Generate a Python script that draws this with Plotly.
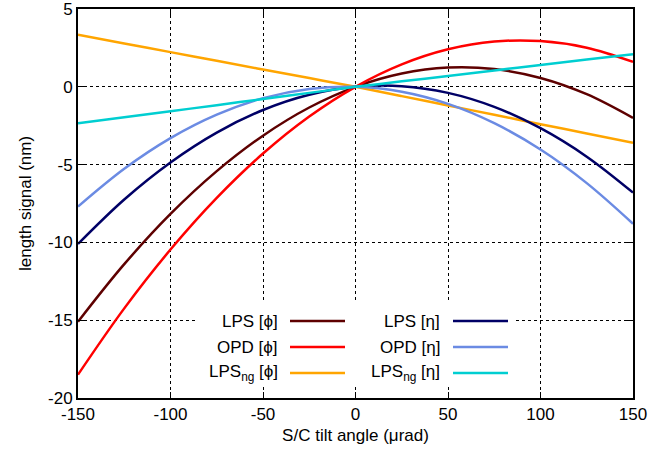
import plotly.graph_objects as go

x = [-150, -125, -100, -75, -50, -25, 0, 25, 50, 75, 100, 125, 150]

lps_phi = [-15.1, -11.4, -8.17, -5.42, -3.14, -1.33, 0, 0.855, 1.235, 1.14, 0.57, -0.475, -2.0]
opd_phi = [-18.5, -14.24, -10.46, -7.14, -4.29, -1.91, 0, 1.44, 2.41, 2.91, 2.94, 2.51, 1.6]
lpsng_phi = [3.35, 2.79, 2.23, 1.67, 1.11, 0.56, 0, -0.60, -1.20, -1.80, -2.40, -3.0, -3.6]
lps_eta = [-10.1, -7.24, -4.86, -2.94, -1.49, -0.51, 0, 0.04, -0.39, -1.29, -2.66, -4.49, -6.8]
opd_eta = [-7.7, -5.27, -3.30, -1.79, -0.73, -0.14, 0, -0.32, -1.10, -2.34, -4.03, -6.19, -8.8]
lpsng_eta = [-2.35, -1.96, -1.57, -1.18, -0.78, -0.39, 0, 0.35, 0.70, 1.05, 1.40, 1.75, 2.1]

x_ticks = [-150, -100, -50, 0, 50, 100, 150]
x_ticktext = ["-150", "-100", "-50", "0", "50", "100", "150"]
y_ticks = [-20, -15, -10, -5, 0, 5]
y_ticktext = ["-20", "-15", "-10", "-5", "0", "5"]

names = ["LPS [\u03d5]", "OPD [\u03d5]", "LPS<sub>ng</sub> [\u03d5]",
         "LPS [\u03b7]", "OPD [\u03b7]", "LPS<sub>ng</sub> [\u03b7]"]
series = [lps_phi, opd_phi, lpsng_phi, lps_eta, opd_eta, lpsng_eta]
colors = ["#5e0000", "#ff0000", "#ffa500", "#000066", "#6b8be3", "#00ced1"]

FONT = "Liberation Sans, Arial, sans-serif"
FS = 17

fig = go.Figure()
for nm, ys, c in zip(names, series, colors):
    fig.add_trace(go.Scatter(x=x, y=ys, mode="lines", name=nm,
                             line=dict(color=c, width=2.5, shape="spline"),
                             showlegend=False))

# plot area in pixels
L, R, T, B = 78, 633, 9, 398
W, H = R - L, B - T

def px(xp):
    return (xp - L) / W

def py(yp):
    return (B - yp) / H

# manual gnuplot-style legend
shapes = [dict(type="rect", xref="paper", yref="paper",
               x0=px(195), x1=px(515), y0=py(387), y1=py(303),
               fillcolor="white", line=dict(width=0), layer="above")]
annotations = []
rows_px = [321, 347, 373]
cols = [(280, 290, 345), (442, 453, 508)]
for i, (nm, c) in enumerate(zip(names, colors)):
    col = cols[i // 3]
    yp = py(rows_px[i % 3])
    annotations.append(dict(xref="paper", yref="paper",
                            x=px(col[0]), y=yp, text=nm, showarrow=False,
                            xanchor="right", yanchor="middle",
                            font=dict(family=FONT, size=FS, color="black")))
    shapes.append(dict(type="line", xref="paper", yref="paper",
                       x0=px(col[1]), x1=px(col[2]), y0=yp, y1=yp,
                       line=dict(color=c, width=2.5), layer="above"))

axis_common = dict(showline=True, linecolor="black", linewidth=2, mirror="allticks",
                   ticks="inside", ticklen=6, tickcolor="black", tickwidth=1,
                   showgrid=True, gridcolor="black", gridwidth=1, griddash="dot",
                   zeroline=False, ticklabeloverflow="allow", automargin=False,
                   tickfont=dict(family=FONT, size=FS, color="black"))

fig.update_layout(
    width=650, height=461,
    margin=dict(l=L, r=650 - R, t=T, b=461 - B),
    plot_bgcolor="white", paper_bgcolor="white",
    font=dict(family=FONT, size=FS, color="black"),
    xaxis=dict(range=[-150.001, 150.001], tickmode="array", tickvals=x_ticks, ticktext=x_ticktext,
               title=dict(text="S/C tilt angle (\u03bcrad)", font=dict(size=FS), standoff=6),
               **axis_common),
    yaxis=dict(range=[-20.001, 5.001], tickmode="array", tickvals=y_ticks, ticktext=y_ticktext,
               title=dict(text="length signal (nm)", font=dict(size=FS), standoff=12),
               **axis_common),
    shapes=shapes, annotations=annotations,
)

fig.write_html("out.html")
